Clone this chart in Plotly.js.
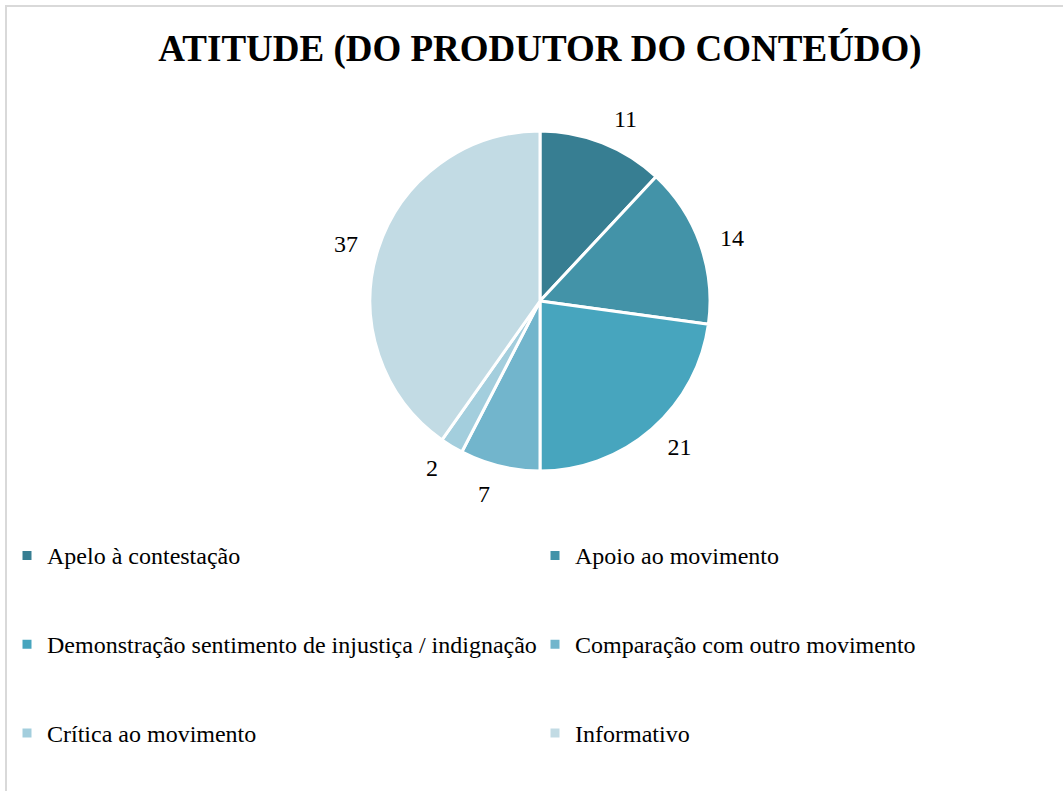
<!DOCTYPE html>
<html>
<head>
<meta charset="utf-8">
<script src="https://cdn.plot.ly/plotly-3.0.1.min.js"></script>
<style>
  html, body { margin: 0; padding: 0; background: #fff; overflow: hidden; }
  #chart { width: 1063px; height: 791px; }
  #frame { position: absolute; left: 5px; top: 5px; width: 1200px; height: 1000px;
           border: 2px solid #d9d9d9; pointer-events: none; }
  #chart path.textline { display: none; }
</style>
</head>
<body>
<div id="chart"></div>
<div id="frame"></div>
<script>
const categories = [
  "Apelo à contestação",
  "Apoio ao movimento",
  "Demonstração sentimento de injustiça / indignação",
  "Comparação com outro movimento",
  "Crítica ao movimento",
  "Informativo"
];
const counts = [11, 14, 21, 7, 2, 37];
const sliceColors = ["#377e92", "#4393a8", "#47a5be", "#72b5cc", "#a3cedd", "#c2dbe4"];
const chartTitle = "ATITUDE (DO PRODUTOR DO CONTEÚDO)";

const W = 1063, H = 791;
const SERIF = "Liberation Serif, Times New Roman, serif";
const legendLabels = categories.map(c => "<br><span style=\"font-size:24px\">" + c + "</span><br> ");
const dx = px => px / W;
const dy = py => 1 - py / H;

// main pie (slices + legend)
const pieTrace = {
  type: "pie",
  labels: legendLabels,
  values: counts,
  sort: false,
  direction: "clockwise",
  rotation: 0,
  textinfo: "none",
  marker: { colors: sliceColors, line: { color: "#ffffff", width: 3 } },
  domain: { x: [dx(370), dx(710)], y: [dy(471), dy(131)] },
  hoverinfo: "none"
};

// transparent companion pie, slightly larger, carrying the value labels
const labelTrace = {
  type: "pie",
  labels: legendLabels,
  values: counts,
  sort: false,
  direction: "clockwise",
  rotation: 0,
  textinfo: "value",
  textposition: "outside",
  outsidetextfont: { family: SERIF, size: 24, color: "#000" },
  marker: { colors: counts.map(() => "rgba(0,0,0,0)"), line: { width: 0 } },
  domain: { x: [dx(356), dx(724)], y: [dy(485), dy(117)] },
  showlegend: false,
  hoverinfo: "none"
};

const layout = {
  width: W, height: H,
  margin: { l: 0, r: 0, t: 0, b: 0 },
  paper_bgcolor: "#ffffff",
  title: {
    text: "<b>" + chartTitle + "</b>",
    font: { family: SERIF, size: 37, color: "#000" },
    x: 540 / W, xanchor: "center",
    y: 1 - 48 / H, yanchor: "middle"
  },
  showlegend: true,
  legend: {
    orientation: "h",
    x: dx(13), xanchor: "left",
    y: dy(506), yanchor: "top",
    entrywidth: 483, entrywidthmode: "pixels",
    font: { family: SERIF, size: 22, color: "#000" },
    traceorder: "normal",
    bgcolor: "rgba(0,0,0,0)"
  }
};

Plotly.newPlot("chart", [pieTrace, labelTrace], layout, { displayModeBar: false, staticPlot: true });
</script>
</body>
</html>
